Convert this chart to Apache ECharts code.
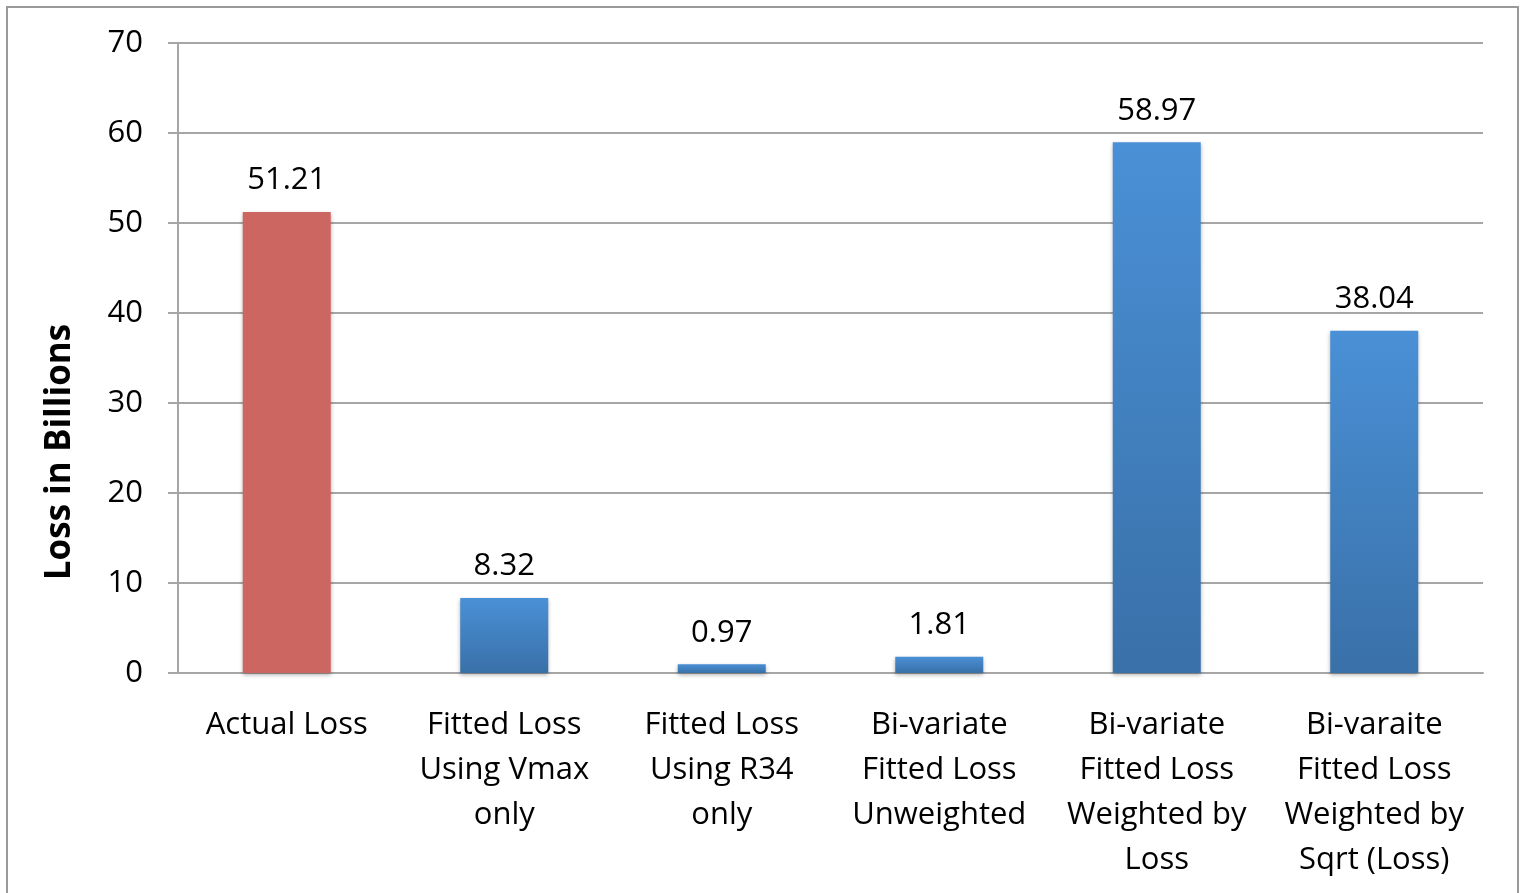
<!DOCTYPE html>
<html>
<head>
<meta charset="utf-8">
<script src="https://cdn.jsdelivr.net/npm/echarts@6/dist/echarts.min.js"></script>
<style>
  html, body { margin: 0; padding: 0; background: #fff; }
  #chart { width: 1525px; height: 893px; }
</style>
</head>
<body>
<div id="chart"></div>
<script>
const categories = [
  'Actual Loss',
  'Fitted Loss\nUsing Vmax\nonly',
  'Fitted Loss\nUsing R34\nonly',
  'Bi-variate\nFitted Loss\nUnweighted',
  'Bi-variate\nFitted Loss\nWeighted by\nLoss',
  'Bi-varaite\nFitted Loss\nWeighted by\nSqrt (Loss)',
];
const losses = [51.21, 8.32, 0.97, 1.81, 58.97, 38.04];
const yTicks = [0, 10, 20, 30, 40, 50, 60, 70];

const font = '"Open Sans", Lato, sans-serif';
const gridColor = '#a6a6a6';

const blue = {
  type: 'linear', x: 0, y: 0, x2: 0, y2: 1,
  colorStops: [
    { offset: 0, color: '#4a90d6' },
    { offset: 1, color: '#3970a8' },
  ],
};

const chart = echarts.init(document.getElementById('chart'));
chart.setOption({
  animation: false,
  grid: { left: 178, right: 42, top: 43, bottom: 220 },
  graphic: [
    {
      type: 'rect',
      shape: { x: 7, y: 7, width: 1511, height: 900 },
      style: { fill: 'none', stroke: '#999', lineWidth: 2 },
    },
    {
      type: 'text',
      x: 60,
      y: 452,
      rotation: Math.PI / 2,
      style: {
        text: 'Loss in Billions',
        font: 'bold 35px ' + font,
        fill: '#000',
        align: 'center',
        verticalAlign: 'middle',
      },
    },
  ],
  xAxis: {
    type: 'category',
    data: categories,
    axisLine: { lineStyle: { color: gridColor, width: 2 } },
    axisTick: { length: 12, lineStyle: { color: gridColor, width: 2 } },
    axisLabel: {
      interval: 0,
      color: '#000',
      fontSize: 31,
      fontFamily: font,
      lineHeight: 45,
      margin: 30,
    },
  },
  yAxis: {
    type: 'value',
    min: yTicks[0],
    max: yTicks[yTicks.length - 1],
    interval: 10,
    axisLine: { show: true, lineStyle: { color: gridColor, width: 2 } },
    axisTick: { show: true, length: 10, lineStyle: { color: gridColor, width: 2 } },
    axisLabel: {
      color: '#000',
      fontSize: 31,
      fontFamily: font,
      margin: 35,
      padding: [10, 0, 0, 0],
    },
    splitLine: { lineStyle: { color: gridColor, width: 2 } },
  },
  series: [
    {
      type: 'bar',
      barWidth: 88,
      data: losses.map((v, i) => ({
        value: v,
        itemStyle: { color: i === 0 ? '#cc6660' : blue },
      })),
      itemStyle: {
        shadowBlur: 4,
        shadowColor: 'rgba(0,0,0,0.3)',
        shadowOffsetY: 2,
      },
      label: {
        show: true,
        position: 'top',
        distance: 16,
        color: '#000',
        fontSize: 31,
        fontFamily: font,
        formatter: (p) => p.value.toFixed(2),
      },
    },
  ],
});
</script>
</body>
</html>
